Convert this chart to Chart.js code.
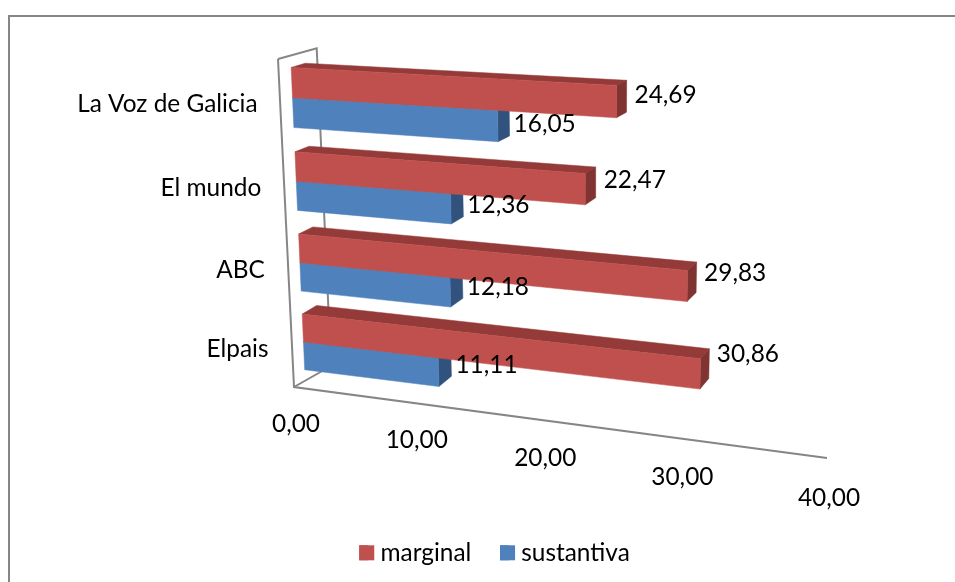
<!DOCTYPE html>
<html>
<head>
<meta charset="utf-8">
<title>Chart</title>
<script src="https://cdn.jsdelivr.net/npm/chart.js@4/dist/chart.umd.min.js"></script>
<style>
  html, body { margin: 0; padding: 0; background: #fff; }
  canvas { display: block; }
</style>
</head>
<body>
<canvas id="barChart" width="955" height="582"></canvas>
<script>
var categories = ['La Voz de Galicia', 'El mundo', 'ABC', 'Elpais'];
var marginal = [24.69, 22.47, 29.83, 30.86];
var sustantiva = [16.05, 12.36, 12.18, 11.11];
var axisMin = 0;
var axisMax = 40;
var axisStep = 10;

var fontName = 'Lato, "Open Sans", sans-serif';
var fontSize = 24.4;
var lineGrey = '#868686';

// corners of the bar plane on screen, front and back of the bars
var frontPlane = quadMap([290.6, 55], [845, 84], [305.2, 381], [830, 448]);
var backPlane = quadMap([304.6, 51], [852.5, 78.5], [319.7, 371], [837, 436]);
// the plane of the near wall edge and floor edge
var wallPlane = quadMap([278, 59], [838, 86], [294, 387], [827, 458]);
var backWallTop = [316.7, 48.3];
var backWallBottom = [331, 366];

function quadMap(p00, p10, p01, p11) {
    var dx1 = p10[0] - p11[0], dx2 = p01[0] - p11[0], sx = p00[0] - p10[0] + p11[0] - p01[0];
    var dy1 = p10[1] - p11[1], dy2 = p01[1] - p11[1], sy = p00[1] - p10[1] + p11[1] - p01[1];
    var den = dx1 * dy2 - dx2 * dy1;
    var g = (sx * dy2 - dx2 * sy) / den;
    var h = (dx1 * sy - sx * dy1) / den;
    var a = p10[0] - p00[0] + g * p10[0], b = p01[0] - p00[0] + h * p01[0];
    var d = p10[1] - p00[1] + g * p10[1], e = p01[1] - p00[1] + h * p01[1];
    return function (u, w) {
        var q = g * u + h * w + 1;
        return [(a * u + b * w + p00[0]) / q, (d * u + e * w + p00[1]) / q];
    };
}

// depth 0 is the front of the bars, 1 the back
function project(u, w, depth) {
    var f = frontPlane(u, w), b = backPlane(u, w);
    return [f[0] + (b[0] - f[0]) * depth, f[1] + (b[1] - f[1]) * depth];
}

function poly(ctx, points, fill) {
    ctx.beginPath();
    points.forEach(function (p, i) {
        if (i === 0) ctx.moveTo(p[0], p[1]); else ctx.lineTo(p[0], p[1]);
    });
    ctx.closePath();
    ctx.fillStyle = fill;
    ctx.fill();
    ctx.strokeStyle = fill;
    ctx.lineWidth = 0.5;
    ctx.stroke();
}

function axisLine(ctx, points) {
    ctx.beginPath();
    points.forEach(function (p, i) {
        if (i === 0) ctx.moveTo(p[0], p[1]); else ctx.lineTo(p[0], p[1]);
    });
    ctx.strokeStyle = lineGrey;
    ctx.lineWidth = 2;
    ctx.stroke();
}

var shades = [
    { front: '#C0504D', top: '#943A38', side: '#7F3431' },
    { front: '#4F81BD', top: '#3E6797', side: '#30527C' }
];

var perspectiveBars = {
    id: 'perspectiveBars',
    beforeDraw: function (chart) {
        axisLine(chart.ctx, [[9, 582], [9, 16], [955, 16]]);
    },
    beforeDatasetsDraw: function () {
        return false; // the plain flat bars are replaced in afterDraw
    },
    afterDraw: function (chart) {
        var ctx = chart.ctx;
        var area = chart.chartArea;
        var xs = chart.scales.x, ys = chart.scales.y;

        function nu(px) { return (px - area.left) / area.width; }
        function nw(py) { return (py - area.top) / area.height; }

        // walls and floor edge
        var nearTop = wallPlane(0, 0), nearBottom = wallPlane(0, 1);
        axisLine(ctx, [nearTop, nearBottom, wallPlane(1, 1)]);
        axisLine(ctx, [nearTop, backWallTop, backWallBottom, nearBottom]);

        ctx.textBaseline = 'middle';
        ctx.font = fontSize + 'px ' + fontName;

        // bars, lower series first so the red one lies over it
        [1, 0].forEach(function (ds) {
            var meta = chart.getDatasetMeta(ds);
            meta.data.forEach(function (bar) {
                var p = bar.getProps(['x', 'y', 'base', 'height'], true);
                var u0 = nu(p.base), u1 = nu(p.x);
                var w0 = nw(p.y - p.height / 2), w1 = nw(p.y + p.height / 2);
                var c = shades[ds];
                poly(ctx, [project(u0, w0, 0), project(u1, w0, 0), project(u1, w0, 1), project(u0, w0, 1)], c.top);
                poly(ctx, [project(u1, w0, 0), project(u1, w1, 0), project(u1, w1, 1), project(u1, w0, 1)], c.side);
                poly(ctx, [project(u0, w0, 0), project(u1, w0, 0), project(u1, w1, 0), project(u0, w1, 0)], c.front);
            });
        });

        // value labels
        ctx.fillStyle = '#000';
        ctx.textAlign = 'left';
        [1, 0].forEach(function (ds) {
            var meta = chart.getDatasetMeta(ds);
            meta.data.forEach(function (bar, i) {
                var p = bar.getProps(['x', 'y', 'height'], true);
                var w1 = nw(p.y + p.height / 2);
                var a = project(nu(p.x), w1, 1);
                var lift = ds === 0 ? 17 + 11 * w1 * w1 * w1 : 11.5;
                var gap = ds === 0 ? 8 : 4;
                var value = chart.data.datasets[ds].data[i];
                ctx.fillText(value.toFixed(2).replace('.', ','), a[0] + gap, a[1] - lift);
            });
        });

        // category labels
        ctx.textAlign = 'right';
        ys.ticks.forEach(function (tick, i) {
            var a = project(0, nw(ys.getPixelForTick(i)), 0);
            ctx.fillText(tick.label, a[0] - 35, a[1] + 7);
        });

        // value axis labels under the floor edge
        ctx.textAlign = 'center';
        xs.ticks.forEach(function (tick, i) {
            var u = nu(xs.getPixelForTick(i));
            var a = wallPlane(u, 1);
            ctx.fillText(tick.label, a[0] + 2, a[1] + 37 + 3 * u * u);
        });

        // legend swatches are a little wider than the gap the legend leaves for them
        chart.legend.legendHitBoxes.forEach(function (box, i) {
            ctx.fillStyle = chart.data.datasets[i].backgroundColor;
            ctx.fillRect(box.left, box.top + box.height / 2 - 7.5, 15, 15);
        });
    }
};

var ctx1 = document.getElementById('barChart').getContext('2d');
var barChart = new Chart(ctx1, {
    type: 'bar',
    data: {
        labels: categories,
        datasets: [
            { label: 'marginal', data: marginal, backgroundColor: '#C0504D' },
            { label: 'sustantiva', data: sustantiva, backgroundColor: '#4F81BD' }
        ]
    },
    options: {
        indexAxis: 'y',
        responsive: false,
        animation: false,
        categoryPercentage: 0.71,
        barPercentage: 1,
        layout: { padding: { bottom: 7, left: 34 } },
        scales: {
            x: {
                display: false,
                min: axisMin,
                max: axisMax,
                ticks: {
                    stepSize: axisStep,
                    callback: function (v) { return v.toFixed(2).replace('.', ','); }
                }
            },
            y: { display: false }
        },
        plugins: {
            tooltip: { enabled: false },
            legend: {
                position: 'bottom',
                labels: {
                    boxWidth: 9,
                    boxHeight: 15,
                    padding: 28.8,
                    color: '#000',
                    font: { family: fontName, size: fontSize }
                }
            }
        }
    },
    plugins: [perspectiveBars]
});
</script>
</body>
</html>
